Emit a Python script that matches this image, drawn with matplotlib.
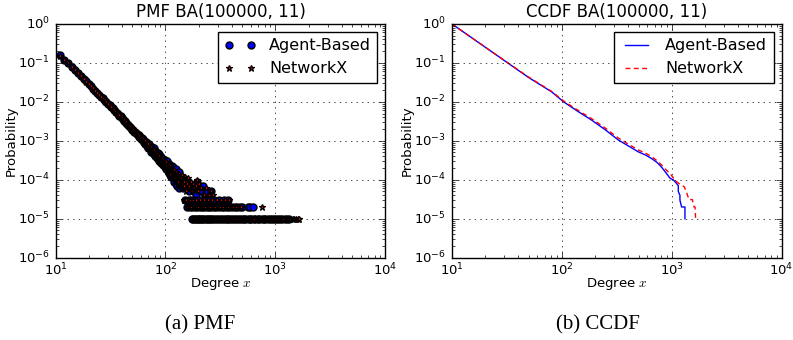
"""
Degree distribution of BA(100000, 11): agent-based model vs NetworkX.

Left panel: PMF as scatter, right panel: CCDF as lines (log-log).
"""

import matplotlib

matplotlib.use("Agg")
import matplotlib.pyplot as plt

plt.style.use("classic")
plt.rcParams["figure.facecolor"] = "white"
plt.rcParams["savefig.facecolor"] = "white"
plt.rcParams["axes.unicode_minus"] = False

N_NODES = 100000

# ---------------------------------------------------------------------------
# PMF data (node counts per degree)
# ---------------------------------------------------------------------------
body_degrees = list(range(11, 136))

ab_body_counts = [
    15410, 12050, 9710, 7820, 6505, 5360, 4580, 3835, 3330, 2840,
    2505, 2150, 1930, 1675, 1520, 1330, 1215, 1070, 990, 875,
    815, 728, 680, 605, 575, 515, 490, 438, 420, 376,
    362, 326, 316, 284, 276, 249, 243, 219, 215, 194,
    191, 172, 171, 155, 153, 139, 138, 125, 125, 112,
    116, 99, 110, 93, 84, 92, 95, 74, 79, 64,
    84, 65, 71, 51, 68, 58, 49, 66, 47, 55,
    41, 52, 44, 36, 49, 37, 45, 30, 40, 33,
    27, 38, 29, 34, 24, 31, 26, 21, 32, 23,
    28, 19, 26, 30, 17, 24, 15, 25, 21, 13,
    22, 17, 12, 23, 15, 19, 11, 21, 14, 9,
    18, 12, 16, 8, 19, 11, 14, 7, 15, 10,
    13, 6, 16, 9, 12,
]
nx_body_counts = [
    15360, 12120, 9640, 7890, 6440, 5420, 4510, 3880, 3290, 2870,
    2465, 2195, 1898, 1705, 1490, 1356, 1195, 1096, 968, 898,
    798, 742, 665, 624, 559, 529, 474, 451, 407, 389,
    351, 338, 305, 295, 266, 258, 235, 228, 207, 203,
    185, 181, 165, 162, 147, 146, 132, 131, 120, 119,
    105, 112, 94, 101, 96, 80, 78, 87, 70, 81,
    66, 74, 60, 69, 55, 63, 61, 47, 58, 44,
    51, 48, 39, 47, 38, 43, 34, 41, 32, 37,
    35, 28, 35, 27, 33, 25, 30, 29, 22, 27,
    22, 29, 20, 18, 26, 19, 24, 16, 18, 23,
    14, 20, 19, 12, 18, 14, 17, 11, 16, 18,
    10, 15, 11, 16, 9, 14, 10, 13, 8, 12,
    9, 14, 7, 11, 8,
]

# scattered points above the discrete rows
ab_cloud_degrees = [136, 138, 139, 141, 143, 145, 147, 152, 154, 157, 160, 164,
                    167, 172, 176, 180, 187, 190, 195, 200, 210, 219, 228, 240,
                    252, 261]
ab_cloud_counts = [9, 12, 7, 10, 6, 11, 8, 7, 10, 6, 9, 5,
                   8, 6, 7, 5, 8, 4, 9, 6, 5, 7, 4, 5,
                   4, 5]
nx_cloud_degrees = [137, 140, 142, 144, 146, 148, 151, 153, 156, 159, 162, 165,
                    169, 174, 178, 183, 188, 193, 197, 203, 212, 222, 236, 249,
                    257, 268]
nx_cloud_counts = [11, 8, 13, 6, 9, 7, 12, 5, 8, 11, 6, 7,
                   9, 5, 8, 6, 7, 10, 5, 8, 6, 4, 6, 4,
                   5, 4]

# degrees holding exactly three / two / one node
ab_triple_degrees = [149, 162, 170, 183, 198, 214, 233, 255, 279, 305, 338, 372]
nx_triple_degrees = [146, 155, 166, 177, 191, 206, 225, 245, 267, 292, 321, 351,
                     377]
ab_double_degrees = [158, 168, 175, 186, 193, 205, 217, 226, 238, 248, 262, 276,
                     291, 307, 324, 342, 361, 381, 402, 425, 449, 474, 497, 562,
                     591, 622]
nx_double_degrees = [156, 163, 172, 181, 189, 199, 209, 220, 231, 243, 256, 270,
                     284, 299, 316, 333, 352, 371, 392, 414, 437, 462, 488, 760]
ab_single_degrees = [174, 179, 184, 191, 196, 202, 208, 213, 221, 229, 237, 244,
                     253, 260, 269, 282, 295, 309, 321, 334, 346, 359, 373, 390,
                     404, 421, 437, 455, 474, 492, 515, 534, 558, 581, 604, 632,
                     658, 689, 716, 748, 781, 812, 851, 889, 926, 968, 1012,
                     1057, 1102, 1158, 1215, 1283, 1320]
nx_single_degrees = [178, 182, 187, 194, 201, 207, 215, 223, 230, 239, 247, 255,
                     264, 273, 283, 293, 303, 315, 327, 340, 352, 366, 381, 397,
                     412, 429, 446, 464, 483, 503, 524, 546, 569, 593, 618, 645,
                     673, 702, 732, 764, 797, 831, 868, 906, 947, 990, 1035,
                     1082, 1131, 1183, 1239, 1297, 1360, 1438, 1488, 1540, 1599,
                     1653]

# ---------------------------------------------------------------------------
# CCDF data
# ---------------------------------------------------------------------------
ab_ccdf_degrees = [10, 20, 30, 50, 81, 104, 140, 187, 250, 327, 410, 498, 580,
                   658, 735, 811, 890, 966, 1030, 1070, 1110, 1150, 1150, 1190,
                   1190, 1233, 1322, 1322]
ab_ccdf = [1.0, 0.256, 0.115, 0.042, 0.018, 0.010, 0.0057, 0.0034, 0.0019,
           0.00105, 0.00072, 0.00052, 0.00043, 0.00035, 0.00028, 0.00021,
           0.00015, 0.00011, 0.00010, 0.00009, 0.00008, 0.00007, 0.00005,
           0.00004, 0.00003, 0.00002, 0.00002, 0.00001]
nx_ccdf_degrees = [10, 20, 30, 50, 81, 104, 140, 187, 250, 327, 410, 498, 580,
                   658, 735, 811, 890, 966, 1040, 1110, 1200, 1303, 1368, 1438,
                   1542, 1599, 1633, 1653]
nx_ccdf = [1.0, 0.256, 0.116, 0.043, 0.0185, 0.0105, 0.0061, 0.0037, 0.0021,
           0.00118, 0.00080, 0.00058, 0.00048, 0.00039, 0.00031, 0.00024,
           0.00018, 0.000146, 0.00011, 0.000089, 0.000075, 0.000066, 0.000047,
           0.000031, 0.000031, 0.00002, 0.00002, 0.00001]


def pmf_points(body_counts, cloud_deg, cloud_cnt, triple, double, single):
    degs = body_degrees + cloud_deg + triple + double + single
    counts = (body_counts + cloud_cnt + [3] * len(triple)
              + [2] * len(double) + [1] * len(single))
    return degs, [c / N_NODES for c in counts]


ab_x, ab_y = pmf_points(ab_body_counts, ab_cloud_degrees, ab_cloud_counts,
                        ab_triple_degrees, ab_double_degrees, ab_single_degrees)
nx_x, nx_y = pmf_points(nx_body_counts, nx_cloud_degrees, nx_cloud_counts,
                        nx_triple_degrees, nx_double_degrees, nx_single_degrees)

fig = plt.figure(figsize=(7.93, 3.4), dpi=100)
ax1 = fig.add_axes([0.070, 0.242, 0.416, 0.688])
ax2 = fig.add_axes([0.5696, 0.242, 0.416, 0.688])

ax1.loglog(ab_x, ab_y, "bo", markersize=5, markeredgewidth=1.0,
           label="Agent-Based")
ax1.loglog(nx_x, nx_y, "r*", markersize=5, markeredgewidth=0.9,
           label="NetworkX")
ax1.set_title("PMF BA(100000, 11)", fontsize=12)

ax2.loglog(ab_ccdf_degrees, ab_ccdf, "b-", linewidth=1, label="Agent-Based")
ax2.loglog(nx_ccdf_degrees, nx_ccdf, "r--", linewidth=1, dashes=(3.5, 2.5),
           label="NetworkX")
ax2.set_title("CCDF BA(100000, 11)", fontsize=12)

for ax in (ax1, ax2):
    ax.set_xlim(10, 1e4)
    ax.set_ylim(1e-6, 1)
    ax.grid(True, which="major", linestyle=":", color="k", linewidth=0.5)
    ax.set_xlabel("Degree $x$", fontsize=9.5)
    ax.set_ylabel("Probability", fontsize=9.5)
    ax.xaxis.set_label_coords(0.5, -0.078)
    ax.yaxis.set_label_coords(-0.115, 0.5)
    ax.tick_params(labelsize=9.5)
    ax.tick_params(axis="x", which="major", pad=3)
    ax.legend(loc="upper right", fontsize=11.5)

fig.text(0.252, 0.044, "(a) PMF", ha="center", va="center",
         family="Liberation Serif", fontsize=15)
fig.text(0.754, 0.044, "(b) CCDF", ha="center", va="center",
         family="Liberation Serif", fontsize=15)

fig.savefig("out.png", dpi=100)
